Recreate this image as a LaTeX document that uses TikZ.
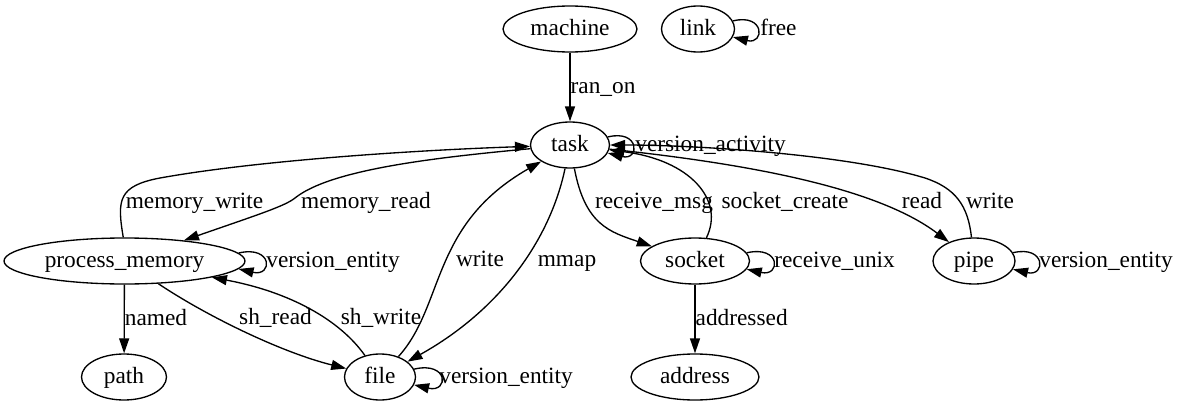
\documentclass[tikz,border=0pt]{standalone}
\usepackage{fontspec}
\setmainfont{Liberation Serif}
\usetikzlibrary{shapes.geometric, arrows.meta}

\begin{document}
\begin{tikzpicture}[
  x=0.6pt, y=-0.6pt,
  font=\fontsize{14}{16}\selectfont,
  state/.style={draw, ellipse, line width=0.8pt, inner sep=0pt, minimum height=27.6pt,
                text height=10.2pt, text depth=2.2pt},
  edge/.style={-{Triangle[length=9pt, width=6pt]}, line width=0.8pt},
  lbl/.style={inner sep=0pt, text height=10.2pt, text depth=2.2pt},
]
\useasboundingbox (0,0) rectangle (1178,407);

% States
\node[state, minimum width=80.4pt] (machine) at (570,29) {machine};
\node[state, minimum width=43.8pt] (link) at (698,29) {link};
\node[state, minimum width=47.4pt] (task) at (570,145) {task};
\node[state, minimum width=144.6pt] (pmem) at (124.5,261) {process\_memory};
\node[state, minimum width=65.4pt] (socket) at (695,261) {socket};
\node[state, minimum width=49.2pt] (pipe) at (974,261) {pipe};
\node[state, minimum width=51pt] (path) at (124,377) {path};
\node[state, minimum width=42.6pt] (file) at (380,377) {file};
\node[state, minimum width=76.8pt] (address) at (695,377) {address};

% Straight edges
\draw[edge] (machine) -- (task) node[lbl, midway, anchor=west] (l-ranon) {ran\_on};
\draw[edge] (pmem) -- (path) node[lbl, midway, anchor=west] (l-named) {named};
\draw[edge] (socket) -- (address) node[lbl, midway, anchor=west] (l-addr) {addressed};

% Curved edges
\draw[edge] (pmem.93) .. controls (117,200) and (118,186) .. (160,178)
     .. controls (260,160) and (420,150) .. (task);
\draw[edge] (task) .. controls (430,158) and (330,170) .. (295,198)
     .. controls (285,206) and (260,214) .. (pmem);
\draw[edge] (pmem) .. controls (205,315) and (280,352) .. (file);
\draw[edge] (file) .. controls (340,320) and (290,292) .. (pmem);
\draw[edge] (file) .. controls (445,305) and (430,225) .. (task);
\draw[edge] (task) .. controls (550,240) and (500,310) .. (file);
\draw[edge] (task) .. controls (585,225) and (610,232) .. (socket);
\draw[edge] (socket) .. controls (725,200) and (690,160) .. (task);
\draw[edge] (task) .. controls (760,165) and (880,190) .. (pipe);
\draw[edge] (pipe) .. controls (968,205) and (955,188) .. (925,178)
     .. controls (850,155) and (700,145) .. (task);

% Loops
\draw[edge] (link.13) .. controls (765,13) and (765,45) .. (link.-13);
\draw[edge] (task.12) .. controls (640,129) and (640,161) .. (task.-12);
\draw[edge] (pmem.4) .. controls (273,245) and (273,277) .. (pmem.-4);
\draw[edge] (file.13) .. controls (449,361) and (449,393) .. (file.-13);
\draw[edge] (socket.9) .. controls (781,245) and (781,277) .. (socket.-9);
\draw[edge] (pipe.12) .. controls (1046,245) and (1046,277) .. (pipe.-12);

% Labels
\node[lbl] (l-mwrite) at (194.5,202) {memory\_write};
\node[lbl] (l-mread) at (366,202) {memory\_read};
\node[lbl] (l-shread) at (275.5,318) {sh\_read};
\node[lbl] (l-shwrite) at (381,318) {sh\_write};
\node[lbl] (l-fwrite) at (480,260) {write};
\node[lbl] (l-mmap) at (567,260) {mmap};
\node[lbl] (l-rmsg) at (654,202) {receive\_msg};
\node[lbl] (l-screate) at (785,202) {socket\_create};
\node[lbl] (l-read) at (922,202) {read};
\node[lbl] (l-pwrite) at (990,202) {write};
\node[lbl, anchor=west] (l-free) at (760,29) {free};
\node[lbl, anchor=west] (l-vact) at (635,145) {version\_activity};
\node[lbl, anchor=west] (l-vpmem) at (266,261) {version\_entity};
\node[lbl, anchor=west] (l-vfile) at (439,377) {version\_entity};
\node[lbl, anchor=west] (l-runix) at (774,261) {receive\_unix};
\node[lbl, anchor=west] (l-vpipe) at (1039,261) {version\_entity};
\end{tikzpicture}
\end{document}
